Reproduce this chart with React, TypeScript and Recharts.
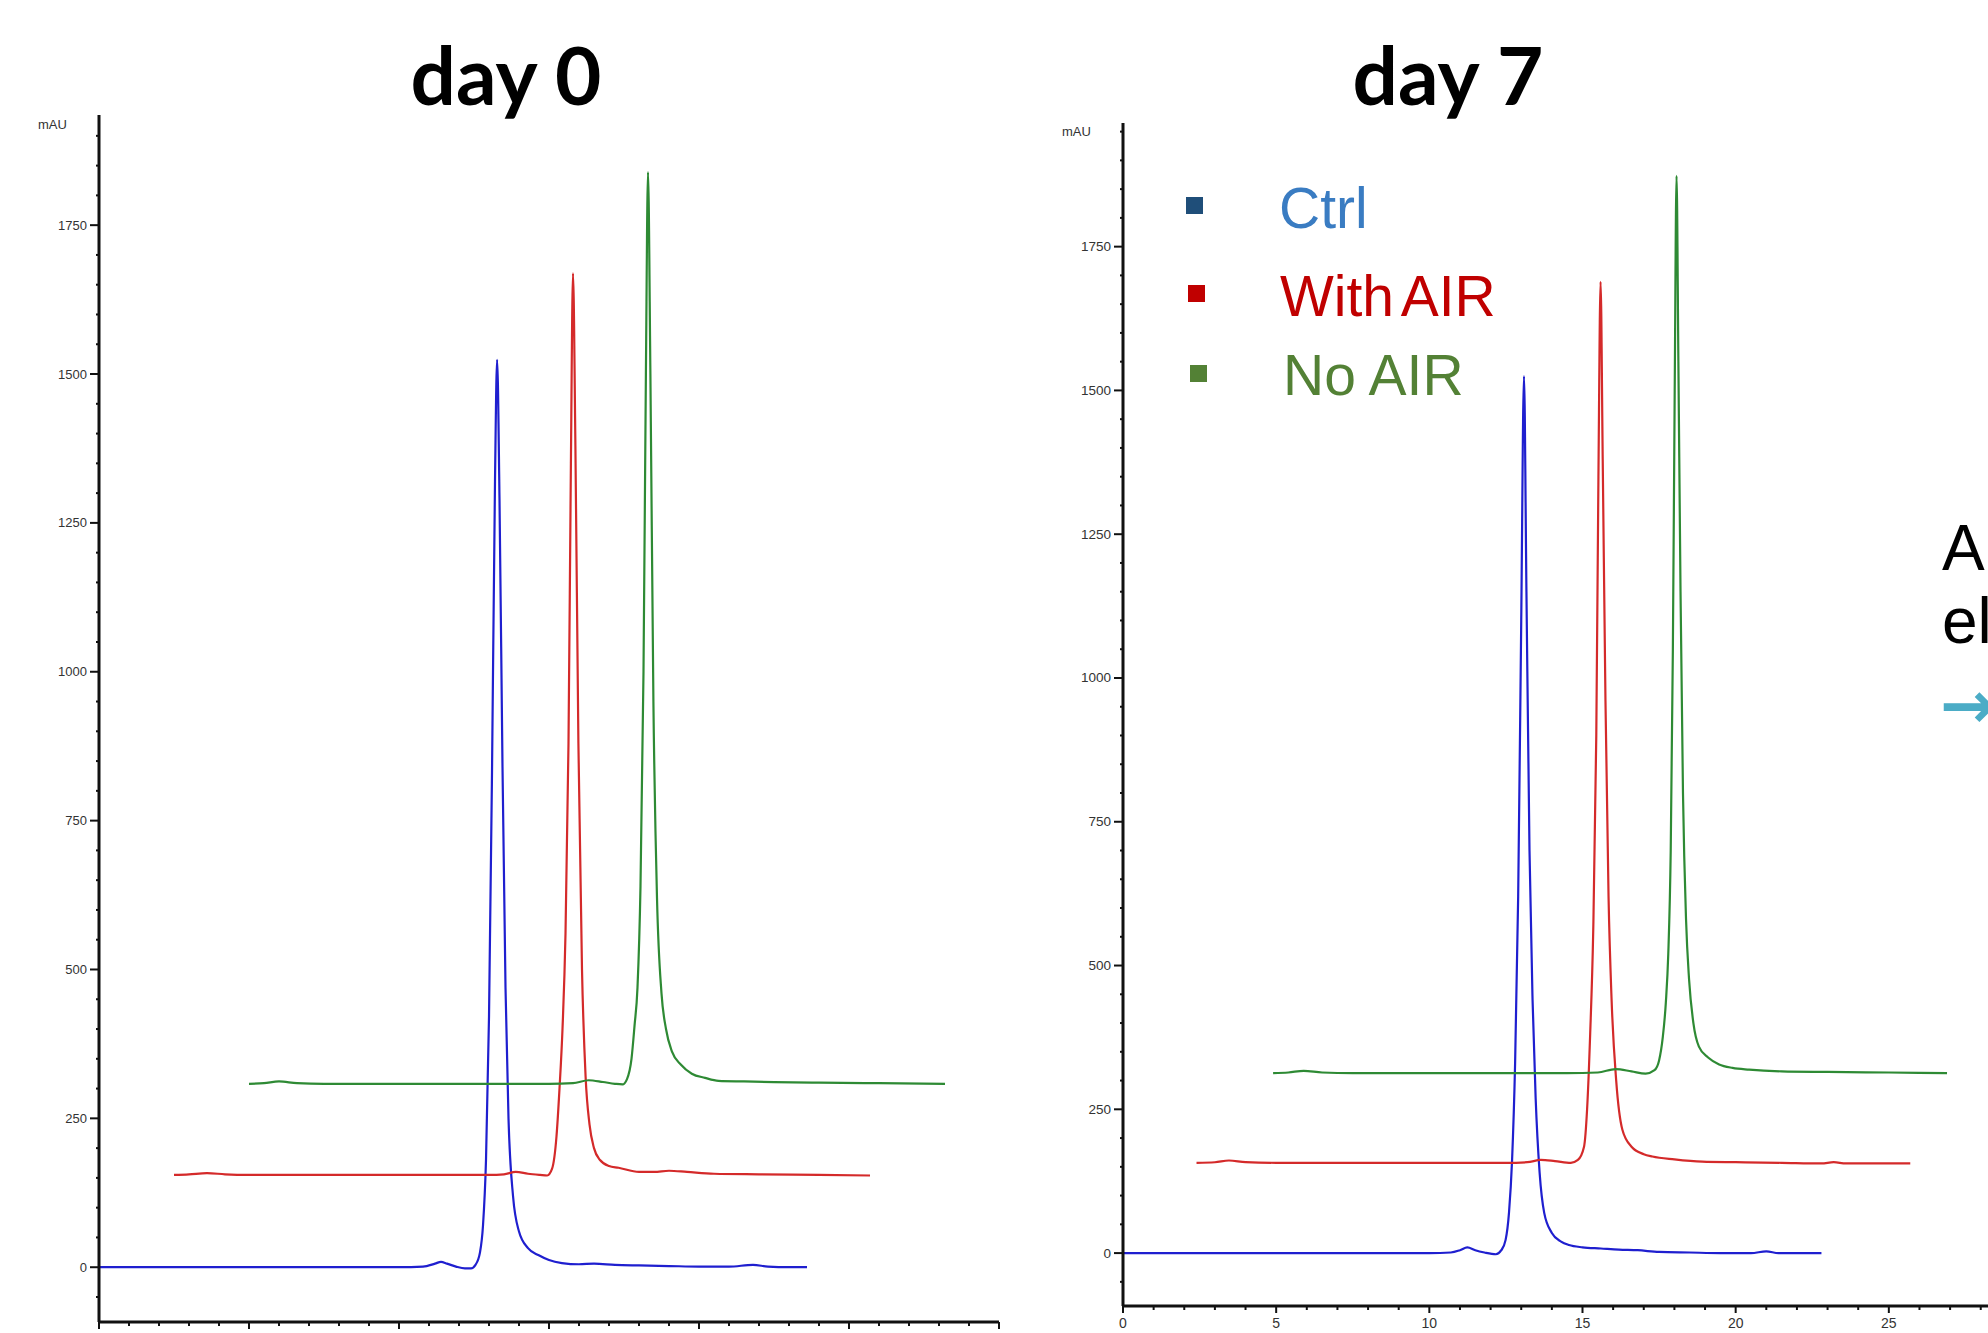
import React from 'react';
import { LineChart, Line, XAxis, YAxis } from 'recharts';

// ---------- data (retention time in min, absorbance in mAU) ----------
const day0CtrlTime = [0, 2, 4, 6, 8, 10, 10.8, 11.2, 11.4, 11.6, 11.9, 12.2, 12.4, 12.55, 12.7, 12.8, 12.9, 13.0, 13.1, 13.2, 13.27, 13.35, 13.45, 13.55, 13.65, 13.8, 14.0, 14.3, 14.66, 15.0, 15.43, 16.0, 16.5, 17.2, 18, 19, 20, 21, 21.8, 22.3, 23, 23.6];
const day0CtrlMAU = [0, 0, 0, 0, 0, 0, 1, 6, 9, 6, 1, -2, -2, 4, 25, 70, 180, 420, 830, 1320, 1524, 1290, 840, 470, 250, 120, 60, 32, 20, 12, 7, 5, 6, 4, 3, 2, 1, 1, 4, 1, 0, 0];

const day0WithAirTime = [2.5, 3.0, 3.6, 4.2, 5, 7, 9, 11, 12, 13, 13.5, 13.89, 14.3, 14.7, 14.94, 15.1, 15.25, 15.35, 15.45, 15.55, 15.65, 15.73, 15.8, 15.88, 15.98, 16.1, 16.22, 16.35, 16.5, 16.7, 17.0, 17.32, 18.0, 18.5, 19.0, 19.6, 20.5, 22, 24, 25.7];
const day0WithAirMAU = [155, 156, 158, 156, 155, 155, 155, 155, 155, 155, 156, 160, 157, 155, 154, 165, 220, 300, 400, 560, 880, 1350, 1669, 1380, 880, 500, 320, 240, 200, 180, 170, 167, 160, 160, 162, 160, 157, 156, 155, 154];

const day0NoAirTime = [5.0, 5.5, 6.0, 6.6, 7.5, 9, 11, 13, 14, 15, 15.8, 16.32, 16.8, 17.2, 17.45, 17.6, 17.75, 17.85, 17.95, 18.05, 18.15, 18.23, 18.3, 18.38, 18.48, 18.6, 18.75, 18.9, 19.1, 19.4, 19.76, 20.2, 20.65, 21.5, 22.5, 24, 26, 28.2];
const day0NoAirMAU = [308, 309, 312, 309, 308, 308, 308, 308, 308, 308, 309, 314, 311, 308, 307, 316, 350, 405, 470, 640, 1000, 1500, 1839, 1500, 950, 620, 460, 400, 362, 340, 325, 318, 313, 312, 311, 310, 309, 308];

const day7CtrlTime = [0, 2, 4, 6, 8, 10, 10.7, 11.0, 11.24, 11.5, 11.8, 12.17, 12.35, 12.49, 12.6, 12.7, 12.8, 12.9, 13.0, 13.09, 13.17, 13.27, 13.37, 13.47, 13.6, 13.75, 14.0, 14.3, 14.56, 15.0, 15.6, 16.19, 16.8, 17.5, 18.5, 19.5, 20.5, 21.0, 21.4, 22, 22.8];
const day7CtrlMAU = [0, 0, 0, 0, 0, 0, 1, 5, 10, 5, 1, -2, 5, 23, 70, 160, 330, 620, 1100, 1525, 1150, 700, 440, 270, 140, 70, 35, 20, 14, 10, 8, 6, 5, 2, 1, 0, 0, 3, 0, 0, 0];

const day7WithAirTime = [2.4, 3.0, 3.46, 4.0, 5, 7, 9, 11, 12.5, 13.2, 13.64, 14.1, 14.62, 14.85, 15.05, 15.15, 15.25, 15.35, 15.45, 15.52, 15.59, 15.66, 15.75, 15.85, 15.95, 16.1, 16.3, 16.6, 17.0, 17.28, 18.0, 18.91, 20, 21.5, 22.8, 23.2, 23.6, 24.5, 25.7];
const day7WithAirMAU = [157, 158, 161, 158, 157, 157, 157, 157, 157, 158, 162, 160, 157, 162, 185, 250, 380, 560, 900, 1350, 1689, 1380, 960, 620, 440, 300, 215, 185, 172, 168, 163, 159, 158, 157, 156, 158, 156, 156, 156];

const day7NoAirTime = [4.9, 5.4, 5.9, 6.5, 7.5, 9, 11, 13, 14.5, 15.5, 16.08, 16.6, 17.06, 17.35, 17.5, 17.62, 17.72, 17.8, 17.88, 17.95, 18.01, 18.07, 18.13, 18.2, 18.28, 18.38, 18.48, 18.62, 18.8, 19.1, 19.46, 19.9, 20.44, 21.5, 23, 25, 26.9];
const day7NoAirMAU = [313, 314, 317, 314, 313, 313, 313, 313, 313, 314, 320, 316, 312, 318, 335, 375, 435, 520, 700, 1050, 1500, 1873, 1550, 1150, 800, 580, 475, 400, 359, 340, 328, 322, 319, 316, 315, 314, 313];

const xTicks = Array.from({ length: 31 }, (_, i) => i); // 0..30 min, labelled every 5
const yTicksDay0 = Array.from({ length: 40 }, (_, i) => -50 + i * 50); // -50..1900
const yTicksDay7 = Array.from({ length: 41 }, (_, i) => -50 + i * 50); // -50..1950

const titles = ['day 0', 'day 7'];
const legendLabels = ['Ctrl', 'With AIR', 'No AIR'];

// ---------- helpers ----------
const zip = (t: number[], v: number[]) => t.map((x, i) => ({ t: x, v: v[i] }));

const FONT = '"Liberation Sans", Arial, sans-serif';
const BLUE = '#1f1fcf';
const RED = '#d42a2a';
const GREEN = '#2e8a34';

const YTick = (props: any) => {
  const { x, y, payload, fs } = props;
  const val = payload.value;
  const major = val % 250 === 0;
  return (
    <g>
      <line x1={x} x2={x - (major ? 9 : 3)} y1={y} y2={y} stroke="#111" strokeWidth={2} />
      {major && (
        <text x={x - 12} y={y} textAnchor="end" dominantBaseline="central" fontFamily={FONT} fontSize={fs} fill="#333">
          {val}
        </text>
      )}
    </g>
  );
};

const XTick = (props: any) => {
  const { x, y, payload } = props;
  const val = payload.value;
  const major = val % 5 === 0;
  return (
    <g>
      <line x1={x} x2={x} y1={y} y2={y + (major ? 7 : 4)} stroke="#111" strokeWidth={2} />
      {major && (
        <text x={x} y={y + 12} textAnchor="middle" dominantBaseline="hanging" fontFamily={FONT} fontSize={14} fill="#333">
          {val}
        </text>
      )}
    </g>
  );
};

type Panel = {
  left: number;
  top: number;
  width: number;
  height: number;
  yWidth: number;
  yDomain: [number, number];
  yTicks: number[];
  fs: number;
  series: { data: { t: number; v: number }[]; color: string; name: string }[];
};

const Chromatogram = ({ p }: { p: Panel }) => (
  <div style={{ position: 'absolute', left: p.left, top: 0 }}>
    <LineChart width={p.width} height={p.height} margin={{ top: p.top, right: 1, left: 0, bottom: 0 }}>
      <XAxis
        type="number"
        dataKey="t"
        domain={[0, 30]}
        allowDataOverflow
        ticks={xTicks}
        interval={0}
        tickSize={0}
        tickMargin={0}
        tickLine={false}
        height={38}
        axisLine={{ stroke: '#111', strokeWidth: 3 }}
        tick={<XTick />}
      />
      <YAxis
        type="number"
        dataKey="v"
        domain={p.yDomain}
        allowDataOverflow
        ticks={p.yTicks}
        interval={0}
        tickSize={0}
        tickMargin={0}
        tickLine={false}
        width={p.yWidth}
        axisLine={{ stroke: '#111', strokeWidth: 3 }}
        tick={<YTick fs={p.fs} />}
      />
      {p.series.map((s) => (
        <Line
          key={s.name}
          data={s.data}
          dataKey="v"
          name={s.name}
          type="monotone"
          stroke={s.color}
          strokeWidth={2.2}
          dot={false}
          activeDot={false}
          isAnimationActive={false}
        />
      ))}
    </LineChart>
  </div>
);

const panelDay0: Panel = {
  left: 0,
  top: 115,
  width: 1000,
  height: 1360,
  yWidth: 99,
  yDomain: [-92, 1935],
  yTicks: yTicksDay0,
  fs: 13,
  series: [
    { data: zip(day0CtrlTime, day0CtrlMAU), color: BLUE, name: legendLabels[0] },
    { data: zip(day0WithAirTime, day0WithAirMAU), color: RED, name: legendLabels[1] },
    { data: zip(day0NoAirTime, day0NoAirMAU), color: GREEN, name: legendLabels[2] },
  ],
};

const panelDay7: Panel = {
  left: 1023,
  top: 123,
  width: 1020,
  height: 1344,
  yWidth: 100,
  yDomain: [-92, 1965],
  yTicks: yTicksDay7,
  fs: 13.5,
  series: [
    { data: zip(day7CtrlTime, day7CtrlMAU), color: BLUE, name: legendLabels[0] },
    { data: zip(day7WithAirTime, day7WithAirMAU), color: RED, name: legendLabels[1] },
    { data: zip(day7NoAirTime, day7NoAirMAU), color: GREEN, name: legendLabels[2] },
  ],
};

export default function App() {
  return (
    <div
      style={{
        position: 'fixed',
        left: 0,
        top: 0,
        width: 1988,
        height: 1333,
        overflow: 'hidden',
        background: '#fff',
      }}
    >
      <Chromatogram p={panelDay0} />
      <Chromatogram p={panelDay7} />
      <svg width={1988} height={1333} style={{ position: 'absolute', left: 0, top: 0, pointerEvents: 'none' }}>
        <text x={506} y={105} textAnchor="middle" fontFamily="Lato, sans-serif" fontWeight={700} fontSize={80} fill="#000">
          {titles[0]}
        </text>
        <text x={1448} y={105} textAnchor="middle" fontFamily="Lato, sans-serif" fontWeight={700} fontSize={80} fill="#000">
          {titles[1]}
        </text>
        <text x={38} y={129} fontFamily={FONT} fontSize={13} fill="#333">mAU</text>
        <text x={1062} y={136} fontFamily={FONT} fontSize={13} fill="#333">mAU</text>

        {/* legend */}
        <rect x={1186} y={197} width={17} height={17} fill="#1f4e79" />
        <text x={1279} y={228} fontFamily={FONT} fontSize={57} fill="#3a7cc2">{legendLabels[0]}</text>
        <rect x={1188} y={285} width={17} height={17} fill="#c00000" />
        <text x={1280} y={316} fontFamily={FONT} fontSize={57} fill="#c00000" wordSpacing={-6}>{legendLabels[1]}</text>
        <rect x={1190} y={365} width={17} height={17} fill="#538135" />
        <text x={1283} y={395} fontFamily={FONT} fontSize={57} fill="#538135">{legendLabels[2]}</text>

        {/* cut-off side note */}
        <text x={1942} y={570} fontFamily={FONT} fontSize={64} fill="#000">A</text>
        <text x={1942} y={643} fontFamily={FONT} fontSize={64} fill="#000">el</text>
        <text x={1940} y={728} fontFamily="DejaVu Sans, sans-serif" fontWeight={700} fontSize={66} fill="#4bacc6">→</text>
      </svg>
    </div>
  );
}
